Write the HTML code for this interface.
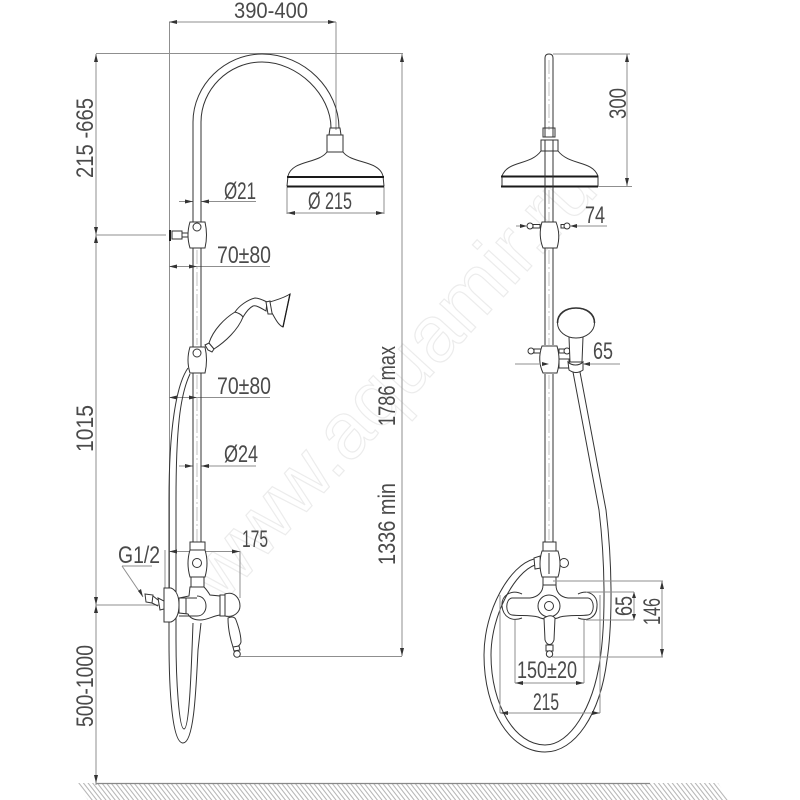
<!DOCTYPE html>
<html><head><meta charset="utf-8"><style>
html,body{margin:0;padding:0;background:#fff}
svg{display:block}
text{font-family:"Liberation Sans",sans-serif;fill:#4a4a4a;font-size:24px}
.o{fill:none;stroke:#333;stroke-width:1}
.w{fill:#fff;stroke:#333;stroke-width:1}
.t{fill:none;stroke:#1a1a1a;stroke-width:2}
.d{fill:none;stroke:#8f8f8f;stroke-width:1}
.c{fill:none;stroke:#b4b4b4;stroke-width:.8;stroke-dasharray:14 3 2 3}
.a{fill:#333;stroke:none}
</style></head><body>
<svg width="800" height="800" viewBox="0 0 800 800" xmlns="http://www.w3.org/2000/svg">
<defs><pattern id="h" width="4.6" height="17" patternUnits="userSpaceOnUse" patternTransform="skewX(38)"><rect width="1.4" height="17" fill="#a8a8a8"/></pattern></defs>
<rect width="800" height="800" fill="#fff"/>
<!-- watermark -->
<text transform="translate(222,604) rotate(-47.5)" textLength="560" lengthAdjust="spacingAndGlyphs" style="font-size:80px;fill:#fff;stroke:#ececec;stroke-width:1.2">www.aquamir.ru</text>
<!-- floor -->
<path d="M76,783H718L729,800H88Z" fill="url(#h)" opacity=".8"/>
<path d="M96,783.500H650" stroke="#888" stroke-width="1.2"/>
<!-- LEFT dims -->
<g class="d">
<path d="M96,54V785M96,53.500H403M402,54V656M238,656.500H402"/>
<path d="M169.500,22V600M336,22V130M169,22H336"/>
<path d="M179,201.500H193M201,201.500H256M287,187V214M384,187V214M287,213H384"/>
<path d="M96,235H166M169,266.500H270M169,397.500H270M179,466H193M201,466H256"/>
<path d="M96,605H172M169,551.500H240M240,551V598M165,550V600"/>
<path d="M122,566H152M122,566L143,597"/>
</g>
<g class="a">
<path d="M96,54l-2,8h4zM402,54l-2,8h4zM96,783l-2,-8h4zM402,656l-2,-8h4z"/>
<path d="M96,235l-2,-8h4zM96,235l-2,8h4zM96,605l-2,-8h4zM96,605l-2,8h4z"/>
<path d="M169,22l8,-2v4zM336,22l-8,-2v4zM287,213l8,-2v4zM384,213l-8,-2v4z"/>
<path d="M193,201.500l-8,-2v4zM201,201.500l8,-2v4zM193,466l-8,-2v4zM201,466l8,-2v4z"/>
<path d="M169,266.500l8,-2v4zM197,266.500l-8,-2v4zM169,397.500l8,-2v4zM197,397.500l-8,-2v4zM169,551.500l8,-2v4zM240,551.500l-8,-2v4zM143,597l-5,-6 3,-2z"/>
</g>
<!-- LEFT arch + head -->
<path class="o" d="M193,225V122C193,85 225,54 262,54C305,54 339,90 339,128M201,225V122C201,90 228,62 262,62C298,62 331,95 331,128"/>
<path class="o" d="M330,128H340L341,135H329ZM327,135H343V152H327Z"/>
<path class="w" d="M327,152C318,164 292,160 288,176L287,186H384L383,176C379,160 352,164 343,152Z"/>
<path class="t" d="M287,177H384M287,186.500H384"/>
<!-- left rail -->
<path class="o" d="M193,225V545M201,225V545"/>
<path class="c" d="M197,250V345M197,375V545"/>
<!-- left hose -->
<path class="o" d="M188,368C176,385 169,430 169,500V640C169,690 172,743 183,743C194,743 196,690 198,650L201,623"/>
<path class="o" d="M190,374C180,395 176,430 176,500V640C176,680 179,729 184,729C189,729 191,680 193,623"/>
<!-- top bracket left -->
<path class="w" d="M172,231H182V239H172ZM182,233H188V237H182Z"/>
<path class="t" d="M170,230V241"/>
<path class="w" d="M190,222H205Q208,235 205,248H190Q186,235 190,222Z"/>
<circle class="w" cx="197" cy="227" r="4"/>
<!-- hand shower left -->
<path class="w" d="M205,345L209,343L214,349L212,352L208,350Z"/>
<path class="w" d="M209,343C213,330 225,318 235,312C239,312 243,314 243,317C238,330 225,342 214,349Z"/>
<path class="w" d="M235,312C239,306 247,300 255,298C259,298 263,300 267,302L266,311C261,308 256,305 253,306C249,308 246,312 243,317C241,314 238,313 235,312Z"/>
<path class="w" d="M266,302L270,301L273,314L268,314Z"/>
<path class="w" d="M270,302C276,300 284,298 290,294L283,327C278,325 275,318 272,313Z"/>
<path class="t" style="stroke-width:1.300" d="M290,294L283,327"/>
<path class="w" d="M190,347H205Q208,360 205,373H190Q186,360 190,347Z"/>
<circle class="w" cx="197" cy="353" r="4"/>
<!-- left mixer -->
<path class="w" d="M190,542H205V550H190ZM190,550H205Q209,563 205,577H190Q186,563 190,550ZM191,577H204V587H191Z"/>
<circle class="o" cx="197" cy="563" r="4.500"/>
<path class="w" d="M190,587L189,596L179,598V613L188,614C190,618 194,620 200,620C208,620 212,616 220,615V596L210,595C207,590 205,588 204,587Z"/>
<path class="o" d="M197,596C209,596 209,616 197,616H179M179,598H197M186,598V614"/>
<path class="w" d="M164,588H171C176,590 179,596 179,605C179,615 176,620 171,622H164Z"/>
<path class="w" d="M158,598L164,601V609L160,610Z"/>
<path class="w" d="M145,594L153,595L152,603L146,602Z"/>
<path class="o" d="M153,596L158,600M152,603L158,606"/>
<path class="w" d="M220,595H225V616H220ZM225,594C234,591 240,598 240,606C240,612 234,618 225,616Z"/>
<path class="w" d="M228,618C232,616 235,617 236,620C239,628 241,636 241,642C240,646 236,648 233,647C230,638 228,628 228,618Z"/>
<path class="w" d="M233,647L239,646L240,650L234,651Z"/>
<circle class="w" cx="237" cy="654" r="3.300"/>
<!-- RIGHT view -->
<path class="o" d="M545,137V58Q545,54 549,54Q553,54 553,58V137"/>
<path class="c" d="M549,60V130"/>
<path class="o" d="M543,128H555V137H543ZM541,140H558V151H541Z"/>
<path class="w" d="M541,151C530,166 508,160 502,176V186H598V176C592,160 570,166 558,151Z"/>
<path class="t" d="M501,176.500H598M501,186.500H598"/>
<path class="o" d="M545,140V222M553,140V222M545,248V345M553,248V345M545,374V543M553,374V543"/>
<path class="c" d="M549,190V222M549,250V345M549,375V540"/>
<!-- right bars -->
<path class="w" d="M533,224.500H540V228H533ZM561,224.500H565V228H561Z"/>
<circle class="w" cx="530" cy="226" r="3"/><circle class="w" cx="567" cy="226" r="3"/>
<path class="w" d="M542,222H556Q561,235 557,248H543Q538,235 542,222Z"/>
<path class="w" d="M534,349H541V353H534ZM559,349H565V353H559Z"/>
<circle class="w" cx="531" cy="351" r="3"/><circle class="w" cx="567" cy="351" r="3"/>
<path class="w" d="M559,359H569V368H559Z"/>
<path class="w" d="M542,346H557Q561,360 557,373H543Q537,360 542,346Z"/>
<!-- hand shower right -->
<path class="w" d="M569,337H583L582,362H570Z"/>
<ellipse class="w" cx="576" cy="323" rx="18.500" ry="15"/>
<path class="o" style="stroke-width:1.600" d="M557.500,323C557.500,313 566,308 576,308C586,308 594.500,313 594.500,323"/>
<path class="w" d="M568,362C572,366 579,366 583,362V370Q576,375 569,370Z"/>
<!-- right hose -->
<path class="o" d="M580,372L606,510C612,560 613,620 607,660C600,715 575,752 545,752C510,752 484,710 484,655C484,610 510,565 534,559"/>
<path class="o" d="M573,372L599,510C605,560 606,620 600,660C593,708 570,745 545,745C515,745 491,705 491,655C491,615 515,572 535,565"/>
<!-- right mixer -->
<path class="w" d="M534,558L540,556L541,568L535,569Z"/>
<path class="w" d="M558,561H561V565H558Z"/>
<circle class="w" cx="564" cy="563" r="4.500"/>
<path class="w" d="M543,542H556V551H543ZM542,551H558Q562,564 558,577H542Q538,564 542,551ZM543,577H556V585H543Z"/>
<path class="o" d="M549,553V574"/>
<path class="o" d="M522,594C512,589 501,595 502,606C503,617 512,622 522,618M578,594C588,589 598,595 597,606C597,617 588,622 578,618"/>
<path class="w" d="M543,585C543,592 538,597 530,598H512C505,599 505,614 512,615C520,616 530,615 538,617C544,620 554,620 560,617C568,615 580,616 588,615C595,614 595,599 588,598H568C560,597 556,592 556,585Z"/>
<circle class="o" cx="549" cy="606" r="11"/>
<circle class="o" cx="549" cy="606" r="4.500"/>
<path class="w" d="M544,618C549,615 552,615 555,618L554,640C552,646 547,646 545,640Z"/>
<path class="w" d="M546,645H553V651H546Z"/>
<circle class="w" cx="549.500" cy="654" r="3.200"/>
<!-- RIGHT dims -->
<g class="d">
<path d="M553,54H630M598,186.500H632M627,54V186"/>
<path d="M516,226H527M570,226H607M515,364H541M583,364H620"/>
<path d="M553,581H663M552,657H663M662,581V657"/>
<path d="M586,592H634M586,620H634M634,592V620"/>
<path d="M515,620V683M584,620V683M515,683H584"/>
<path d="M500,595V713M600,595V713M500,713H600"/>
</g>
<g class="a">
<path d="M627,54l-2,8h4zM627,186l-2,-8h4zM662,581l-2,8h4zM662,657l-2,-8h4zM634,592l-2,6h4zM634,620l-2,-6h4z"/>
<path d="M527,226l-7,-2v4zM570,226l7,-2v4zM549,364l-7,-2v4zM583,364l7,-2v4z"/>
<path d="M515,683l8,-2v4zM584,683l-8,-2v4zM500,713l8,-2v4zM600,713l-8,-2v4z"/>
</g>
<!-- labels -->
<text x="234" y="18" textLength="74" lengthAdjust="spacingAndGlyphs" style="font-size:22px">390-400</text>
<text x="224" y="199" textLength="32" lengthAdjust="spacingAndGlyphs">Ø21</text>
<text x="308" y="209" textLength="44" lengthAdjust="spacingAndGlyphs">Ø 215</text>
<text x="217" y="263" textLength="54" lengthAdjust="spacingAndGlyphs">70±80</text>
<text x="217" y="394" textLength="54" lengthAdjust="spacingAndGlyphs">70±80</text>
<text x="224" y="462" textLength="34" lengthAdjust="spacingAndGlyphs">Ø24</text>
<text x="242" y="547" textLength="26" lengthAdjust="spacingAndGlyphs">175</text>
<text x="118" y="563" textLength="42" lengthAdjust="spacingAndGlyphs">G1/2</text>
<text transform="translate(93,178) rotate(-90)" textLength="80" lengthAdjust="spacingAndGlyphs">215 -665</text>
<text transform="translate(93,452) rotate(-90)" textLength="47" lengthAdjust="spacingAndGlyphs">1015</text>
<text transform="translate(93,727) rotate(-90)" textLength="82" lengthAdjust="spacingAndGlyphs">500-1000</text>
<text transform="translate(395,426) rotate(-90)" textLength="80" lengthAdjust="spacingAndGlyphs">1786 max</text>
<text transform="translate(395,565) rotate(-90)" textLength="82" lengthAdjust="spacingAndGlyphs">1336 min</text>
<text transform="translate(626,119) rotate(-90)" textLength="31" lengthAdjust="spacingAndGlyphs">300</text>
<text x="585" y="223" textLength="20" lengthAdjust="spacingAndGlyphs">74</text>
<text x="593" y="359" textLength="20" lengthAdjust="spacingAndGlyphs">65</text>
<text transform="translate(632,616) rotate(-90)" textLength="20" lengthAdjust="spacingAndGlyphs">65</text>
<text transform="translate(660,625) rotate(-90)" textLength="27" lengthAdjust="spacingAndGlyphs">146</text>
<text x="517" y="678" textLength="60" lengthAdjust="spacingAndGlyphs">150±20</text>
<text x="533" y="710" textLength="26" lengthAdjust="spacingAndGlyphs">215</text>
</svg>
</body></html>
